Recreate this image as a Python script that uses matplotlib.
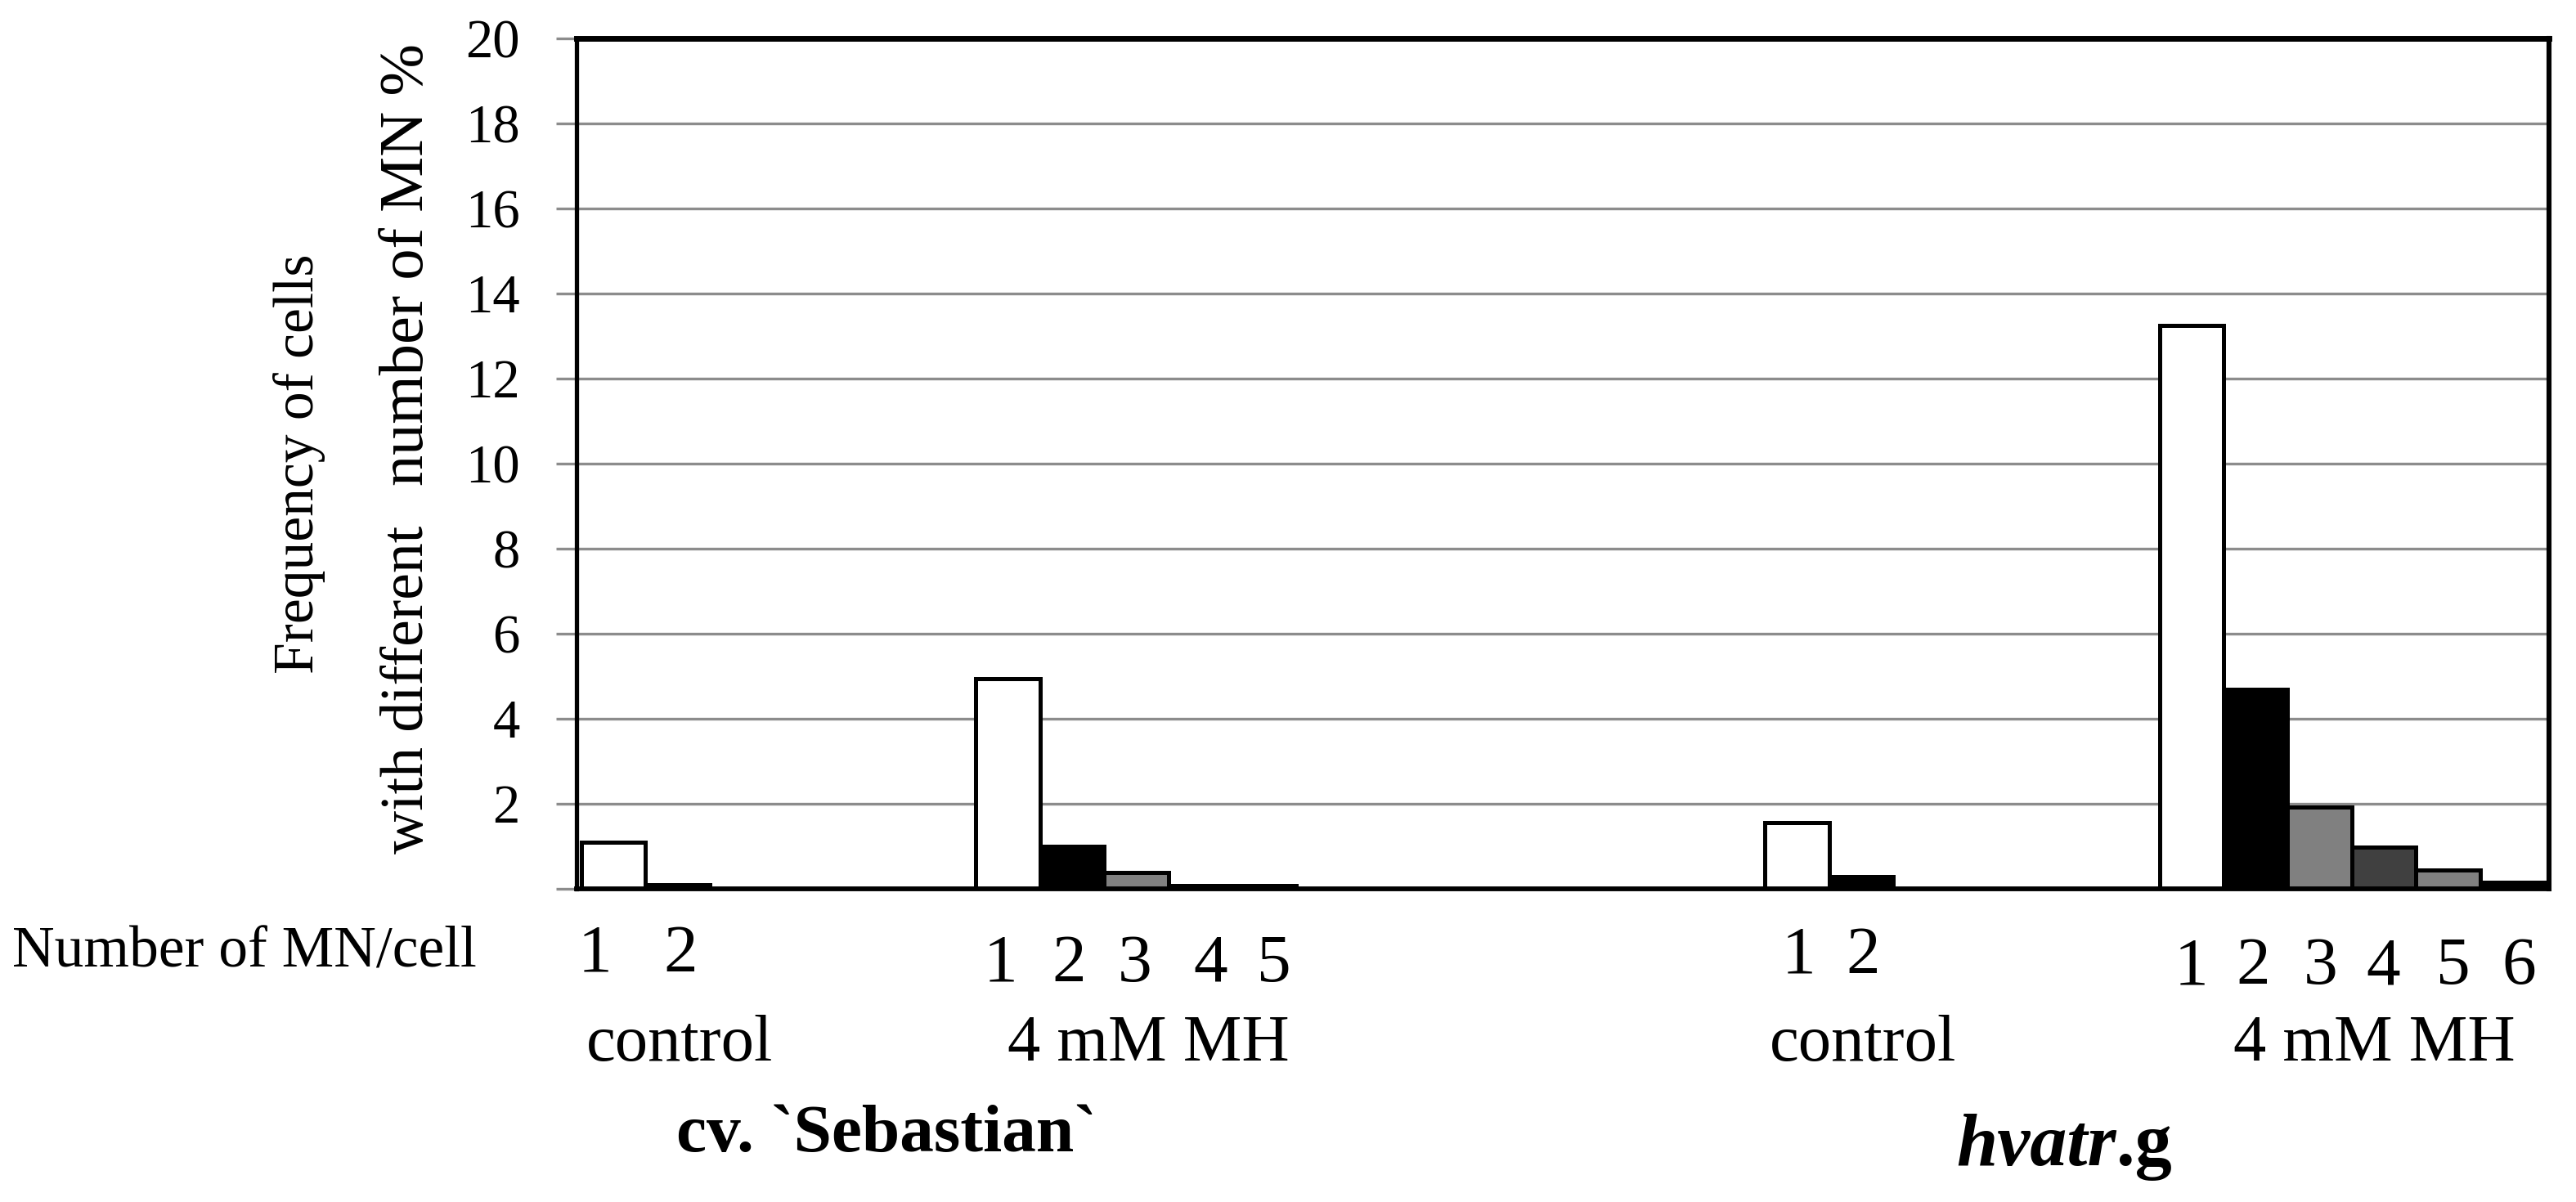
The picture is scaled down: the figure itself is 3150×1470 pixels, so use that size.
import numpy as np
import matplotlib
matplotlib.use("Agg")
import matplotlib.pyplot as plt

# ---------------- data ----------------
groups = ["cv. Sebastian control", "cv. Sebastian 4 mM MH", "",
          "hvatr.g control", "hvatr.g 4 mM MH"]
series_names = ["1 MN", "2 MN", "3 MN", "4 MN", "5 MN", "6 MN"]
mn1 = [1.10, 4.95, 0.0, 1.56, 13.25]
mn2 = [0.10, 1.00, 0.0, 0.28, 4.70]
mn3 = [0.00, 0.38, 0.0, 0.00, 1.93]
mn4 = [0.00, 0.08, 0.0, 0.00, 0.98]
mn5 = [0.00, 0.08, 0.0, 0.00, 0.45]
mn6 = [0.00, 0.00, 0.0, 0.00, 0.16]
series_colors = ["#ffffff", "#000000", "#808080", "#404040", "#808080", "#000000"]

yticks = [0, 2, 4, 6, 8, 10, 12, 14, 16, 18, 20]
ytick_labels = ["", "2", "4", "6", "8", "10", "12", "14", "16", "18", "20"]

ylabel_line1 = "Frequency of cells"
ylabel_line2a = "with different"
ylabel_line2b = "number of MN %"
xrow_label = "Number of MN/cell"
ctrl_digits = ["1", "2"]
mh1_digits = ["1", "2", "3", "4", "5"]
mh2_digits = ["1", "2", "3", "4", "5", "6"]
treat_labels = ["control", "4 mM MH", "control", "4 mM MH"]
cultivar1 = "cv. `Sebastian`"
cultivar2_it = "hvatr"
cultivar2_rest = ".g"

# ---------------- figure ----------------
W, H = 3150, 1470
FONT = "Liberation Serif"
plt.rcParams["font.family"] = [FONT, "DejaVu Serif"]

fig = plt.figure(figsize=(W / 100, H / 100), dpi=100)
fig.patch.set_facecolor("white")


def fx(px):
    return px / W


def fy(py):
    return 1 - py / H


ax_l, ax_r, ax_t, ax_b = 705, 3117, 47, 1087
ax = fig.add_axes([fx(ax_l), fy(ax_b), (ax_r - ax_l) / W, (ax_b - ax_t) / H])

series = [mn1, mn2, mn3, mn4, mn5, mn6]
n_s = len(series)
bw = 0.1625
base = np.arange(len(groups)) + 0.5
for j, (vals, col) in enumerate(zip(series, series_colors)):
    xs = base + (j - (n_s - 1) / 2) * bw
    ax.bar(xs, vals, width=bw, color=col, edgecolor="black", linewidth=3.6,
           zorder=2, label=series_names[j])

ax.set_xlim(0, len(groups))
ax.set_ylim(0, 20)
ax.set_yticks(yticks)
ax.set_yticklabels(ytick_labels, fontsize=48, family=FONT)
ax.set_xticks([])
ax.yaxis.grid(True, color="#8c8c8c", linewidth=2.4, zorder=0)
ax.set_axisbelow(True)
ax.tick_params(axis="y", direction="out", length=18, width=2.4,
               color="#8c8c8c", pad=32, labelcolor="black")

ax.spines["left"].set_linewidth(3.8)
ax.spines["top"].set_linewidth(5.0)
ax.spines["right"].set_linewidth(4.4)
ax.spines["bottom"].set_linewidth(4.2)
for s in ax.spines.values():
    s.set_color("black")
    s.set_zorder(5)

# ---------------- y label (two rotated lines) ----------------
fig.text(fx(366), fy(567), ylabel_line1, rotation=90, ha="center", va="center",
         fontsize=50, family=FONT)
fig.text(fx(517), fy(1044), ylabel_line2a, rotation=90, rotation_mode="anchor",
         ha="left", va="baseline", fontsize=53, family=FONT)
fig.text(fx(517), fy(594), ylabel_line2b, rotation=90, rotation_mode="anchor",
         ha="left", va="baseline", fontsize=55, family=FONT)

# ---------------- bottom labels ----------------
fig.text(fx(15), fy(1183), xrow_label, ha="left", va="baseline", fontsize=51.5, family=FONT)

for d, x in zip(ctrl_digits, [728, 832]):
    fig.text(fx(x), fy(1188), d, ha="center", va="baseline", fontsize=60, family=FONT)
for d, x in zip(mh1_digits, [1223, 1307, 1388, 1480, 1558]):
    fig.text(fx(x), fy(1200), d, ha="center", va="baseline", fontsize=60, family=FONT)
for d, x in zip(ctrl_digits, [2200, 2278]):
    fig.text(fx(x), fy(1190), d, ha="center", va="baseline", fontsize=60, family=FONT)
for d, x in zip(mh2_digits, [2679, 2755, 2838, 2914, 3000, 3080]):
    fig.text(fx(x), fy(1203), d, ha="center", va="baseline", fontsize=60, family=FONT)

for lab, x in zip(treat_labels, [831, 1404, 2278, 2903]):
    fig.text(fx(x), fy(1297), lab, ha="center", va="baseline", fontsize=58, family=FONT)

fig.text(fx(827), fy(1408), cultivar1, ha="left", va="baseline", fontsize=60,
         fontweight="bold", family=FONT)
t_it = fig.text(fx(2392), fy(1425), cultivar2_it, ha="left", va="baseline", fontsize=65,
                fontweight="bold", fontstyle="italic", family=FONT)
fig.canvas.draw()
bb = t_it.get_window_extent()
fig.text(bb.x1 / W, fy(1425), cultivar2_rest, ha="left", va="baseline", fontsize=65,
         fontweight="bold", family=FONT)

fig.savefig("out.png", dpi=100, facecolor="white")
